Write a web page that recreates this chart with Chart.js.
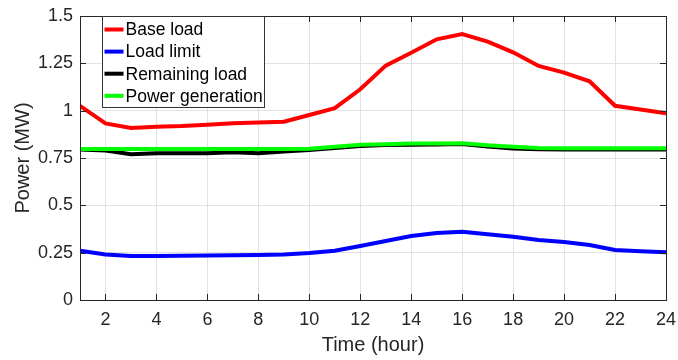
<!DOCTYPE html>
<html>
<head>
<meta charset="utf-8">
<script src="https://cdn.jsdelivr.net/npm/chart.js@4"></script>
<style>
    body { margin: 0; background: #ffffff; }
    #wrap { width: 678px; height: 360px; }
</style>
</head>
<body>
<div id="wrap"><canvas id="powerChart" width="678" height="360"></canvas></div>
<script>
// hourly profile, hours 1..24 (MW)
var hours = [1, 2, 3, 4, 5, 6, 7, 8, 9, 10, 11, 12, 13, 14, 15, 16, 17, 18, 19, 20, 21, 22, 23, 24];
var baseLoad = [1.025, 0.933, 0.909, 0.915, 0.919, 0.926, 0.933, 0.937, 0.942, 0.977, 1.013, 1.113,
    1.238, 1.306, 1.377, 1.405, 1.365, 1.308, 1.236, 1.201, 1.155, 1.026, 1.006, 0.986];
var loadLimit = [0.260, 0.240, 0.232, 0.233, 0.234, 0.235, 0.237, 0.238, 0.240, 0.248, 0.260, 0.285,
    0.312, 0.338, 0.354, 0.361, 0.347, 0.334, 0.317, 0.306, 0.290, 0.264, 0.258, 0.252];
var remainingLoad = [0.795, 0.789, 0.770, 0.775, 0.775, 0.775, 0.780, 0.775, 0.784, 0.792, 0.803, 0.814,
    0.819, 0.820, 0.821, 0.824, 0.811, 0.800, 0.796, 0.795, 0.795, 0.795, 0.795, 0.795];
var powerGen = [0.798, 0.798, 0.798, 0.798, 0.798, 0.798, 0.798, 0.798, 0.798, 0.799, 0.810, 0.820,
    0.823, 0.826, 0.827, 0.828, 0.817, 0.810, 0.803, 0.801, 0.801, 0.801, 0.801, 0.801];

var xTicks = [2, 4, 6, 8, 10, 12, 14, 16, 18, 20, 22, 24];
var yTicks = [0, 0.25, 0.5, 0.75, 1, 1.25, 1.5];

var axisColor = '#262626';
var gridColor = '#e2e2e2';
var fontFamily = '"Liberation Sans", Arial, sans-serif';

function toPoints(ys) {
    return ys.map(function (y, i) { return { x: hours[i], y: y }; });
}

// box around the axes with inward ticks on all four sides
var frame = {
    id: 'frame',
    afterDatasetsDraw: function (chart) {
        var ctx = chart.ctx;
        var a = chart.chartArea;
        var xs = chart.scales.x, ys = chart.scales.y;
        var len = 6;
        ctx.save();
        ctx.strokeStyle = axisColor;
        ctx.lineWidth = 1;
        ctx.beginPath();
        xTicks.forEach(function (v) {
            var px = Math.round(xs.getPixelForValue(v)) + 0.5;
            ctx.moveTo(px, a.bottom); ctx.lineTo(px, a.bottom - len);
            ctx.moveTo(px, a.top); ctx.lineTo(px, a.top + len);
        });
        yTicks.forEach(function (v) {
            var py = Math.round(ys.getPixelForValue(v)) + 0.5;
            ctx.moveTo(a.left, py); ctx.lineTo(a.left + len, py);
            ctx.moveTo(a.right, py); ctx.lineTo(a.right - len, py);
        });
        ctx.stroke();
        ctx.strokeRect(Math.round(a.left) + 0.5, Math.round(a.top) + 0.5,
            Math.round(a.right - a.left), Math.round(a.bottom - a.top));
        ctx.restore();
    }
};

// boxed legend in the upper left corner of the plot
var boxLegend = {
    id: 'boxLegend',
    afterDraw: function (chart) {
        var ctx = chart.ctx;
        var a = chart.chartArea;
        var x0 = a.left + 22.5, y0 = a.top + 0.5, w = 162, h = 91;
        ctx.save();
        ctx.fillStyle = '#ffffff';
        ctx.fillRect(x0, y0, w, h);
        ctx.strokeStyle = '#333333';
        ctx.lineWidth = 1;
        ctx.strokeRect(x0, y0, w, h);
        ctx.font = '17.5px ' + fontFamily;
        ctx.textBaseline = 'middle';
        ctx.fillStyle = '#000000';
        chart.data.datasets.forEach(function (ds, i) {
            var cy = y0 + 13 + i * 22.1;
            ctx.strokeStyle = ds.borderColor;
            ctx.lineWidth = 4;
            ctx.beginPath();
            ctx.moveTo(x0 + 2, cy);
            ctx.lineTo(x0 + 21, cy);
            ctx.stroke();
            ctx.fillText(ds.label, x0 + 23, cy + 1);
        });
        ctx.restore();
    }
};

function lineSet(label, ys, color, order) {
    return {
        label: label,
        data: toPoints(ys),
        borderColor: color,
        backgroundColor: color,
        borderWidth: 4,
        pointRadius: 0,
        tension: 0,
        order: order
    };
}

var ctx = document.getElementById('powerChart').getContext('2d');
var myChart = new Chart(ctx, {
    type: 'line',
    data: {
        datasets: [
            lineSet('Base load', baseLoad, '#ff0000', 3),
            lineSet('Load limit', loadLimit, '#0000ff', 2),
            lineSet('Remaining load', remainingLoad, '#000000', 1),
            lineSet('Power generation', powerGen, '#00ff00', 0)
        ]
    },
    options: {
        responsive: false,
        animation: false,
        layout: { padding: { top: 16, right: 12, left: 0, bottom: 0 } },
        plugins: {
            legend: { display: false },
            tooltip: { enabled: false }
        },
        scales: {
            x: {
                type: 'linear',
                min: 1,
                max: 24,
                afterBuildTicks: function (s) {
                    s.ticks = xTicks.map(function (v) { return { value: v }; });
                },
                afterFit: function (s) {
                    s.height = 60;
                    s.paddingLeft = 0;
                    s.paddingRight = 0;
                },
                grid: { color: gridColor, drawTicks: false },
                border: { display: false },
                ticks: {
                    color: axisColor,
                    padding: 9,
                    maxRotation: 0,
                    font: { family: fontFamily, size: 18 },
                    callback: function (v) { return String(v); }
                },
                title: {
                    display: true,
                    text: 'Time (hour)',
                    color: axisColor,
                    padding: { top: 0, bottom: 3 },
                    font: { family: fontFamily, size: 20 }
                }
            },
            y: {
                min: 0,
                max: 1.5,
                afterBuildTicks: function (s) {
                    s.ticks = yTicks.map(function (v) { return { value: v }; });
                },
                afterFit: function (s) {
                    s.width = 80;
                    s.paddingTop = 0;
                    s.paddingBottom = 0;
                },
                grid: { color: gridColor, drawTicks: false },
                border: { display: false },
                ticks: {
                    color: axisColor,
                    padding: 7,
                    font: { family: fontFamily, size: 18 },
                    callback: function (v) { return String(v); }
                },
                title: {
                    display: true,
                    text: 'Power (MW)',
                    color: axisColor,
                    padding: { top: 11, bottom: 0 },
                    font: { family: fontFamily, size: 20 }
                }
            }
        }
    },
    plugins: [frame, boxLegend]
});
</script>
</body>
</html>
